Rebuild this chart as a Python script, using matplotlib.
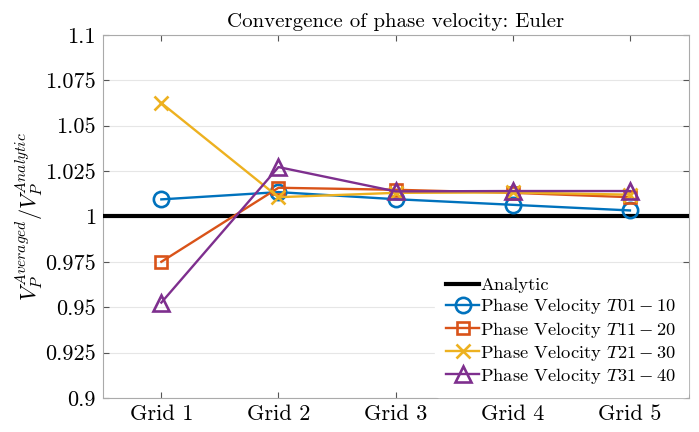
import numpy as np
import matplotlib
matplotlib.use("Agg")
from matplotlib import pyplot as plt

#Fonts: LaTeX-like look
plt.rcParams['font.family'] = 'serif'
plt.rcParams['font.serif'] = ['cmr10']
plt.rcParams['mathtext.fontset'] = 'cm'
plt.rcParams['axes.formatter.use_mathtext'] = True

#Data:
GRIDS = ['Grid 1', 'Grid 2', 'Grid 3', 'Grid 4', 'Grid 5']
ANALYTIC = 1.0
pv_01_10 = [1.0094, 1.0134, 1.0095, 1.0064, 1.0033]
pv_11_20 = [0.9750, 1.0158, 1.0147, 1.0130, 1.0106]
pv_21_30 = [1.0625, 1.0106, 1.0130, 1.0132, 1.0120]
pv_31_40 = [0.9525, 1.0272, 1.0138, 1.0140, 1.0140]
Y_TICKS = [0.9, 0.925, 0.95, 0.975, 1.0, 1.025, 1.05, 1.075, 1.1]
Y_LABELS = ['0.9', '0.925', '0.95', '0.975', '1', '1.025', '1.05', '1.075', '1.1']

#Plotting:
fig = plt.figure(figsize=(6.99, 4.32), dpi=100)
ax = fig.add_axes([0.147, 0.079, 0.838, 0.840])

x = np.arange(1, len(GRIDS) + 1)
ax.axhline(ANALYTIC, color='k', lw=3, label='Analytic', zorder=3)
ax.plot(x, pv_01_10, color='#0072BD', lw=1.7, marker='o', ms=11, mfc='none', mew=1.9,
        label=r'Phase Velocity $T01-10$', zorder=4)
ax.plot(x, pv_11_20, color='#D95319', lw=1.7, marker='s', ms=9, mfc='none', mew=1.9,
        label=r'Phase Velocity $T11-20$', zorder=4)
ax.plot(x, pv_21_30, color='#EDB120', lw=1.7, marker='x', ms=10, mew=1.9,
        label=r'Phase Velocity $T21-30$', zorder=4)
ax.plot(x, pv_31_40, color='#7E2F8E', lw=1.7, marker='^', ms=12, mfc='none', mew=1.9,
        label=r'Phase Velocity $T31-40$', zorder=4)

ax.set_xlim(0.5, 5.5)
ax.set_ylim(0.9, 1.1)
ax.set_xticks(x, GRIDS)
ax.set_yticks(Y_TICKS, Y_LABELS)
ax.tick_params(direction='in', top=True, right=True, labelsize=16, color='#555555',
               length=4, pad=5)
ax.yaxis.grid(True, color='#e6e6e6', lw=0.8)
ax.set_axisbelow(True)
for s in ax.spines.values():
    s.set_color('#aaaaaa')
    s.set_linewidth(0.8)

ax.set_title('Convergence of phase velocity: Euler', fontsize=15, pad=6)
ax.set_ylabel(r'$V_P^{Averaged}/V_P^{Analytic}$', fontsize=16, labelpad=0)

leg = ax.legend(loc='lower right', fontsize=13.3, frameon=True, handlelength=1.8,
                handletextpad=0.05, labelspacing=0.17, borderaxespad=0.05, borderpad=0.6)
leg.get_frame().set_edgecolor('white')
leg.get_frame().set_alpha(1)

plt.savefig('out.png', dpi=100)
